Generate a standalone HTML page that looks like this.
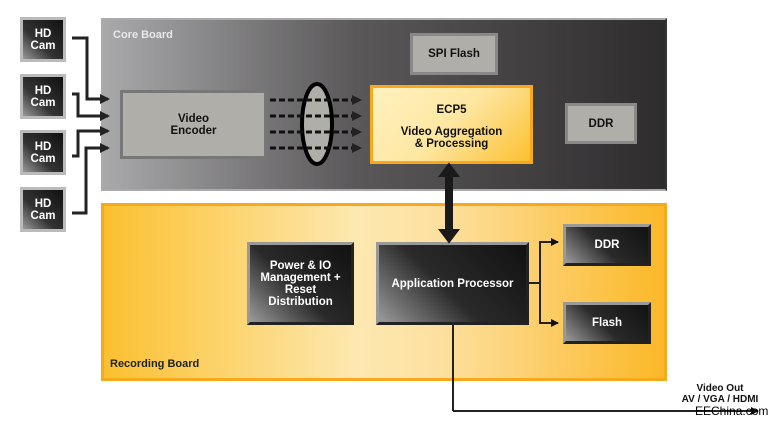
<!DOCTYPE html>
<html><head><style>
body{margin:0;width:777px;height:426px;background:#fff;position:relative;overflow:hidden;font-family:"Liberation Sans",sans-serif;font-weight:bold}
.b{position:absolute;box-sizing:border-box;display:flex;align-items:center;justify-content:center;text-align:center;font-size:11.5px;line-height:12px}
.cam{left:20px;width:46px;height:45px;background:linear-gradient(45deg,#999 0%,#333 40%,#111 100%);border:3px solid #bbb;color:#fff;font-size:11.5px}
.dk{background:linear-gradient(225deg,#111 0%,#2a2a2a 55%,#9a9a9a 100%);border:3px solid #999;border-bottom-color:#222;border-right-color:#222;color:#fff}
</style></head><body>
<div class="b" style="left:101px;top:18px;width:566px;height:173px;background:linear-gradient(90deg,#a9a9ab 0%,#5a5859 45%,#2e2c2d 100%);border:2px solid #aaa;border-right-color:#333"></div>
<div style="position:absolute;left:113px;top:29px;color:#e8e8e8;font-size:11px">Core Board</div>
<div class="b" style="left:101px;top:203px;width:566px;height:178px;background:linear-gradient(90deg,#fbc030 0%,#fde8b0 45%,#fde0a0 60%,#fbb828 100%);border:3px solid #f8a81c"></div>
<div style="position:absolute;left:110px;top:358px;color:#222;font-size:11px">Recording Board</div>
<div class="b cam" style="top:17px">HD<br>Cam</div>
<div class="b cam" style="top:74px">HD<br>Cam</div>
<div class="b cam" style="top:130px">HD<br>Cam</div>
<div class="b cam" style="top:187px">HD<br>Cam</div>
<div class="b" style="left:120px;top:90px;width:147px;height:69px;background:#b0aea8;border:3px solid #777;color:#111">Video<br>Encoder</div>
<div class="b" style="left:370px;top:85px;width:163px;height:79px;background:linear-gradient(135deg,#fff2c0 0%,#fde6a0 50%,#fbc030 100%);border:3px solid #f8a81c;color:#111;flex-direction:column;justify-content:flex-start;padding-top:16px"><div>ECP5</div><div style="margin-top:10px">Video Aggregation<br>&amp; Processing</div></div>
<div class="b" style="left:410px;top:33px;width:88px;height:42px;background:#b0aea8;border:3px solid #888;color:#111">SPI Flash</div>
<div class="b" style="left:565px;top:103px;width:72px;height:41px;background:#b0aea8;border:3px solid #888;color:#111">DDR</div>
<div class="b dk" style="left:247px;top:242px;width:107px;height:83px">Power &amp; IO<br>Management +<br>Reset<br>Distribution</div>
<div class="b dk" style="left:376px;top:242px;width:153px;height:83px">Application Processor</div>
<div class="b dk" style="left:563px;top:224px;width:88px;height:42px">DDR</div>
<div class="b dk" style="left:563px;top:302px;width:88px;height:42px">Flash</div>
<svg width="777" height="426" style="position:absolute;left:0;top:0">
<defs><marker id="a" markerWidth="8" markerHeight="8" refX="7" refY="4" orient="auto" markerUnits="userSpaceOnUse"><path d="M0,0L8,4L0,8z" fill="#111"/></marker>
<marker id="c" markerWidth="12" markerHeight="10" refX="8" refY="5" orient="auto" markerUnits="userSpaceOnUse"><path d="M0,0L10,5L0,10z" fill="#222"/></marker></defs>
<g stroke="#222" stroke-width="3" fill="none" marker-end="url(#c)">
<path d="M72,38H87V99H108"/><path d="M72,94H78V116H108"/><path d="M72,156H78V131H108"/><path d="M72,213H86V148H108"/>
<path d="M453,411H758" stroke-width="2" marker-end="url(#a)"/>
</g>
<ellipse cx="317" cy="124" rx="15" ry="40" fill="#b0aea8" stroke="#000" stroke-width="4"/>
<g stroke="#111" stroke-width="3" stroke-dasharray="6,3" fill="none" marker-end="url(#c)">
<path d="M270,100H360"/><path d="M270,116H360"/><path d="M270,132H360"/><path d="M270,148H360"/>
</g>
<path d="M453,325V411" stroke="#222" stroke-width="2"/>
<path d="M449,164L440,176H446V230H440L449,242L458,230H452V176H458Z" fill="#1a1a1a" stroke="#1a1a1a" stroke-width="2"/>
<g stroke="#222" stroke-width="2" fill="none" marker-end="url(#a)">
<path d="M529,283H540V242H558"/><path d="M540,283V323H558"/>
</g>
</svg>
<div style="position:absolute;left:670px;top:383px;width:100px;text-align:center;font-size:10px;line-height:11px;color:#111">Video Out<br>AV / VGA / HDMI</div>
<div style="position:absolute;left:695px;top:404px;font-size:12px;font-weight:normal;color:#000">EEChina.com</div>
</body></html>
